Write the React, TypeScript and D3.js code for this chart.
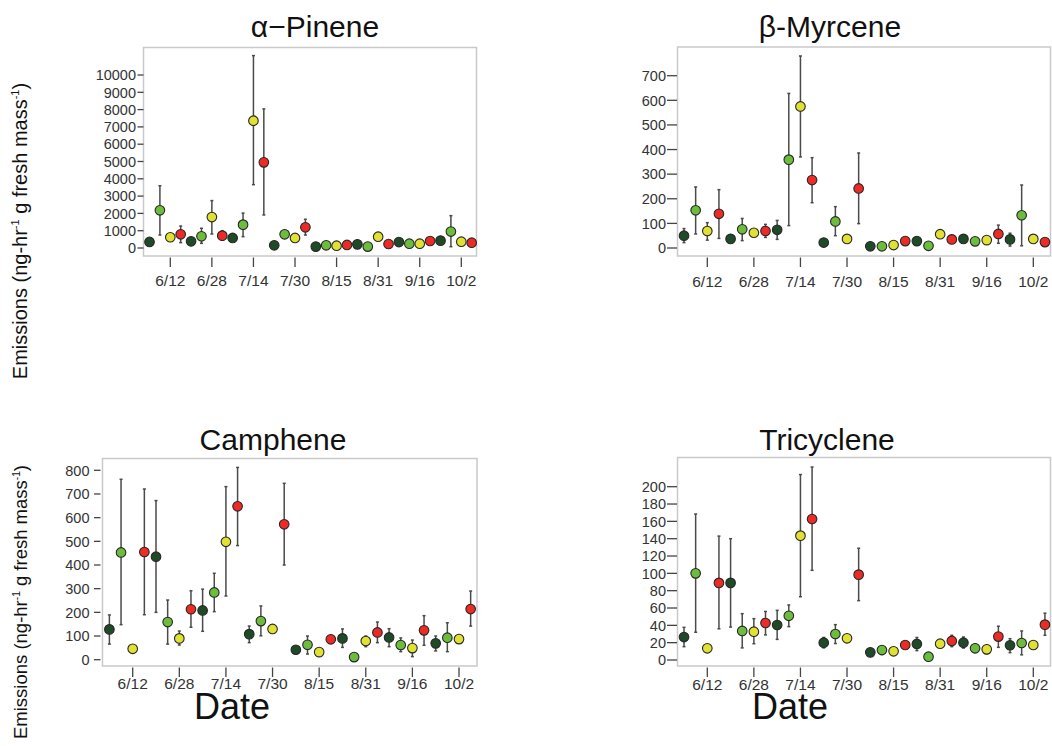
import React from "react";
import * as d3 from "d3";

// Sampling dates (every 4 days) and the four treatment groups cycling through them
const SAMPLE_DATES = [
  "6/4", "6/8", "6/12", "6/16", "6/20", "6/24", "6/28", "7/2", "7/6", "7/10", "7/14",
  "7/18", "7/22", "7/26", "7/30", "8/3", "8/7", "8/11", "8/15", "8/19", "8/23", "8/27",
  "8/31", "9/4", "9/8", "9/12", "9/16", "9/20", "9/24", "9/28", "10/2", "10/6",
];
const GROUP_COLORS = ["#1f4a27", "#6dbd3d", "#e1e134", "#ec2b25"];
const X_TICKS = ["6/12", "6/28", "7/14", "7/30", "8/15", "8/31", "9/16", "10/2"];

// α-Pinene
const PINENE_MEAN = [350, 2180, 620, 790, 385, 675, 1790, 715, 580, 1350, 7360, 4950, 155, 790, 580, 1195, 80, 155, 135, 175, 210, 80, 655, 230, 345, 250, 250, 405, 425, 950, 365, 305];
const PINENE_LO = [null, 750, null, 310, null, 270, 810, 460, null, 655, 3660, 1910, null, null, null, 750, null, null, null, null, null, null, null, null, null, null, null, null, null, 75, null, null];
const PINENE_HI = [null, 3600, null, 1270, null, 1140, 2740, 1000, null, 2020, 11120, 8040, null, null, null, 1660, null, null, null, null, null, null, null, null, null, null, null, null, null, 1870, null, null];
const PINENE_TICKS = [0, 1000, 2000, 3000, 4000, 5000, 6000, 7000, 8000, 9000, 10000];

// β-Myrcene
const MYRCENE_MEAN = [50, 153, 69, 139, 37, 76, 62, 69, 74, 359, 575, 276, 22, 108, 37, 242, 7, 7, 12, 28, 28, 9, 56, 35, 37, 27, 32, 57, 35, 133, 37, 24];
const MYRCENE_LO = [22, 57, 32, 39, null, 30, null, 43, 35, 91, 370, 184, null, 50, null, 99, null, null, null, null, null, null, null, null, null, null, null, 19, 8, 9, null, null];
const MYRCENE_HI = [79, 248, 103, 237, null, 120, null, 96, 112, 628, 780, 367, null, 168, null, 386, null, null, null, null, null, null, null, null, null, null, null, 93, 60, 256, null, null];
const MYRCENE_TICKS = [0, 100, 200, 300, 400, 500, 600, 700];

// Camphene
const CAMPHENE_MEAN = [128, 453, 46, 455, 435, 159, 90, 213, 208, 284, 498, 648, 108, 163, 130, 572, 42, 63, 32, 86, 90, 11, 79, 115, 94, 62, 49, 124, 69, 93, 87, 214];
const CAMPHENE_LO = [66, 148, null, 190, 200, 66, 62, 137, 120, 203, 269, 482, 72, 101, null, 400, null, 24, null, null, 52, null, 55, 72, 55, 34, 13, 61, 37, 34, null, 142];
const CAMPHENE_HI = [189, 762, null, 721, 672, 252, 121, 291, 298, 365, 731, 812, 142, 227, null, 745, null, 100, null, null, 130, null, 100, 159, 131, 92, 83, 186, 100, 156, null, 290];
const CAMPHENE_TICKS = [0, 100, 200, 300, 400, 500, 600, 700, 800];

// Tricyclene
const TRICYCLENE_MEAN = [26.5, 100, 13.5, 89, 89, 33.5, 32.7, 42.7, 40.4, 51, 143.5, 162.7, 20, 30, 25, 98.5, 8.8, 11.5, 10, 17.3, 18.5, 3.8, 18.8, 22, 20, 13.5, 12.3, 27, 17, 19.6, 17.3, 40.8];
const TRICYCLENE_LO = [15.4, 32, null, 36, 38, 14, 18.8, 29, 23.8, 38.5, 73, 103.5, 14, 19, null, 68.5, null, 6.5, null, null, 10.8, null, null, 15.4, 13.8, 8.8, 7.3, 14.6, 8.5, 6, null, 28.5];
const TRICYCLENE_HI = [37.7, 168.5, null, 143, 140, 53.5, 47.7, 56, 57.3, 63.5, 214, 222.7, 26, 40.8, null, 129, null, 16, null, null, 26, null, null, 28.5, 26.5, 18.5, 17.3, 39, 24.6, 33.5, null, 54];
const TRICYCLENE_TICKS = [0, 20, 40, 60, 80, 100, 120, 140, 160, 180, 200];

const CUM_DAYS = [0, 31, 59, 90, 120, 151, 181, 212, 243, 273, 304, 334];
function dayOfYear(md: string): number {
  const [m, d] = md.split("/").map(Number);
  return CUM_DAYS[m - 1] + d;
}

const FONT = "'Liberation Sans', Arial, Helvetica, sans-serif";

type PanelSpec = {
  title: string;
  mean: number[];
  lo: (number | null)[];
  hi: (number | null)[];
  yTicks: number[];
  frame: { x0: number; x1: number; y0: number; y1: number };
  xPx: [number, number]; // pixel positions of first and last x tick
  yPx: [number, number]; // pixel positions of first and last y tick
  titleX: number;
  titleY: number;
  xLabelY: number;
  yTickGap: number;
  yTickLen: number;
  yLabelPad: number;
};

const panels: PanelSpec[] = [
  {
    title: "α−Pinene",
    mean: PINENE_MEAN, lo: PINENE_LO, hi: PINENE_HI, yTicks: PINENE_TICKS,
    frame: { x0: 143.5, x1: 476.5, y0: 47.5, y1: 256 },
    xPx: [170.3, 461.3], yPx: [248, 75],
    titleX: 315, titleY: 37, xLabelY: 285.5, yTickGap: 0, yTickLen: 6, yLabelPad: 1.5,
  },
  {
    title: "β-Myrcene",
    mean: MYRCENE_MEAN, lo: MYRCENE_LO, hi: MYRCENE_HI, yTicks: MYRCENE_TICKS,
    frame: { x0: 677.5, x1: 1050.5, y0: 47, y1: 256 },
    xPx: [707.3, 1033.3], yPx: [248, 75.7],
    titleX: 830, titleY: 37, xLabelY: 286.5, yTickGap: 0.5, yTickLen: 10, yLabelPad: 1,
  },
  {
    title: "Camphene",
    mean: CAMPHENE_MEAN, lo: CAMPHENE_LO, hi: CAMPHENE_HI, yTicks: CAMPHENE_TICKS,
    frame: { x0: 102.5, x1: 477, y0: 458.5, y1: 666 },
    xPx: [132.7, 459], yPx: [659.7, 470.3],
    titleX: 273, titleY: 450, xLabelY: 689, yTickGap: 2, yTickLen: 6.5, yLabelPad: 4.5,
  },
  {
    title: "Tricyclene",
    mean: TRICYCLENE_MEAN, lo: TRICYCLENE_LO, hi: TRICYCLENE_HI, yTicks: TRICYCLENE_TICKS,
    frame: { x0: 677.5, x1: 1050.5, y0: 457.5, y1: 666 },
    xPx: [707.3, 1033.3], yPx: [660, 486.7],
    titleX: 827, titleY: 450, xLabelY: 689.5, yTickGap: 0.5, yTickLen: 10, yLabelPad: 1,
  },
];

function Panel({ p }: { p: PanelSpec }) {
  const x = d3
    .scaleLinear()
    .domain([dayOfYear(X_TICKS[0]), dayOfYear(X_TICKS[X_TICKS.length - 1])])
    .range(p.xPx);
  const y = d3
    .scaleLinear()
    .domain([p.yTicks[0], p.yTicks[p.yTicks.length - 1]])
    .range(p.yPx);
  const f = p.frame;
  const tickEnd = f.x0 - p.yTickGap;
  const tickStart = tickEnd - p.yTickLen;
  return (
    <g>
      <text x={p.titleX} y={p.titleY} textAnchor="middle" fontSize={30} fill="#111" fontFamily={FONT}>
        {p.title}
      </text>
      <rect x={f.x0} y={f.y0} width={f.x1 - f.x0} height={f.y1 - f.y0} fill="none" stroke="#c9c9c9" strokeWidth={1.5} />
      {/* y axis ticks */}
      {p.yTicks.map((t) => (
        <g key={"y" + t}>
          <line x1={tickStart} x2={tickEnd} y1={y(t)} y2={y(t)} stroke="#444" strokeWidth={1.3} />
          <text x={tickStart - p.yLabelPad} y={y(t)} dy="0.36em" textAnchor="end" fontSize={14.5} fill="#333" fontFamily={FONT}>
            {t}
          </text>
        </g>
      ))}
      {/* x axis ticks */}
      {X_TICKS.map((t) => (
        <g key={"x" + t}>
          <line x1={x(dayOfYear(t))} x2={x(dayOfYear(t))} y1={f.y1 + 1.5} y2={f.y1 + 11} stroke="#444" strokeWidth={1.3} />
          <text x={x(dayOfYear(t))} y={p.xLabelY} textAnchor="middle" fontSize={15.5} fill="#333" fontFamily={FONT}>
            {t}
          </text>
        </g>
      ))}
      {/* error bars */}
      {SAMPLE_DATES.map((d, i) => {
        const lo = p.lo[i];
        const hi = p.hi[i];
        if (lo == null || hi == null) return null;
        const cx = x(dayOfYear(d));
        return (
          <g key={"e" + d} stroke="#4a4a4a" strokeWidth={1.5}>
            <line x1={cx} x2={cx} y1={y(hi)} y2={y(lo)} />
            <line x1={cx - 1.5} x2={cx + 1.5} y1={y(hi)} y2={y(hi)} />
            <line x1={cx - 1.5} x2={cx + 1.5} y1={y(lo)} y2={y(lo)} />
          </g>
        );
      })}
      {/* means */}
      {SAMPLE_DATES.map((d, i) => (
        <circle
          key={"c" + d}
          cx={x(dayOfYear(d))}
          cy={y(p.mean[i])}
          r={4.8}
          fill={GROUP_COLORS[i % GROUP_COLORS.length]}
          stroke="#262626"
          strokeWidth={1.1}
        />
      ))}
    </g>
  );
}

function YLabel({ cy, size }: { cy: number; size: number }) {
  const sup = size * 0.55;
  const shift = size * 0.4;
  return (
    <text
      transform={`translate(27,${cy}) rotate(-90)`}
      textAnchor="middle"
      fontSize={size}
      fill="#111"
      fontFamily={FONT}
    >
      <tspan>Emissions (ng-hr</tspan>
      <tspan fontSize={sup} dy={-shift}>-1</tspan>
      <tspan dy={shift}> g fresh mass</tspan>
      <tspan fontSize={sup} dy={-shift}>-1</tspan>
      <tspan dy={shift}>)</tspan>
    </text>
  );
}

export default function App() {
  return (
    <svg
      width={1052}
      height={746}
      style={{ position: "absolute", left: 0, top: 0, background: "#fff" }}
    >
      <rect width={1052} height={746} fill="#fff" />
      {panels.map((p) => (
        <Panel key={p.title} p={p} />
      ))}
      <YLabel cy={231} size={20} />
      <YLabel cy={602} size={18.5} />
      <text x={232} y={719} textAnchor="middle" fontSize={36} fill="#111" fontFamily={FONT}>Date</text>
      <text x={790} y={719} textAnchor="middle" fontSize={36} fill="#111" fontFamily={FONT}>Date</text>
    </svg>
  );
}
